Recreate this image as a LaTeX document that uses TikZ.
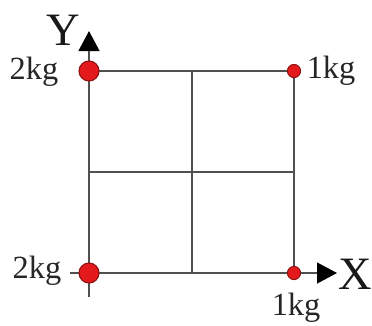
\documentclass[tikz,border=0pt]{standalone}
\usepackage{fontspec}
\setmainfont{Liberation Serif}
\usetikzlibrary{arrows.meta,positioning}
\definecolor{GridGray}{HTML}{505050}
\definecolor{MassRed} {HTML}{E3191C}
\definecolor{RimRed}  {HTML}{8E1414}
\tikzset{
  gline/.style={draw=GridGray,line width=1.2pt},
  axis/.style={draw=GridGray,line width=1.4pt,
               -{Triangle[length=0.5cm,width=0.52cm,color=black]}},
  bigmass/.style={circle,fill=MassRed,draw=RimRed,line width=0.8pt,
                  minimum size=0.5cm,inner sep=0pt},
  smallmass/.style={circle,fill=MassRed,draw=RimRed,line width=0.7pt,
                    minimum size=0.33cm,inner sep=0pt},
  kglab/.style={font=\fontsize{23}{25}\selectfont,text=black!85,inner sep=0pt},
  axlab/.style={font=\fontsize{33}{35}\selectfont,text=black!90,inner sep=0pt},
}

\begin{document}
\begin{tikzpicture}[x=0.025cm,y=-0.025cm]

  \useasboundingbox (0,0) rectangle (372,325);

  % corners and midpoints of the square
  \coordinate (cTL) at (89,71);
  \coordinate (cTR) at (294,71);
  \coordinate (cBL) at (89,273);
  \coordinate (cBR) at (294,273);
  \coordinate (mT) at (192,71);
  \coordinate (mB) at (192,273);
  \coordinate (mL) at (89,172);
  \coordinate (mR) at (294,172);

  % axis ends
  \coordinate (yFoot) at (89,297);
  \coordinate (yTip)  at (89,31);
  \coordinate (xFoot) at (70,273);
  \coordinate (xTip)  at (337,273);

  % grid
  \draw[gline] (cTL) -- (cTR) -- (cBR);
  \draw[gline] (mT) -- (mB);
  \draw[gline] (mL) -- (mR);

  % axes
  \draw[axis] (yFoot) -- (yTip);
  \draw[axis] (xFoot) -- (xTip);

  % masses
  \node[bigmass]   (mTL) at (cTL) {};
  \node[smallmass] (mTR) at (cTR) {};
  \node[bigmass]   (mBL) at (cBL) {};
  \node[smallmass] (mBR) at (cBR) {};

  % labels
  \node[axlab] (yLab) at (63,30)  {Y};
  \node[axlab] (xLab) at (355,274) {X};
  \node[kglab] (kTL) at (34,72)   {2kg};
  \node[kglab] (kBL) at (37,271)  {2kg};
  \node[kglab] (kTR) at (331,71)  {1kg};
  \node[kglab] (kBR) at (296,308) {1kg};

\end{tikzpicture}
\end{document}
